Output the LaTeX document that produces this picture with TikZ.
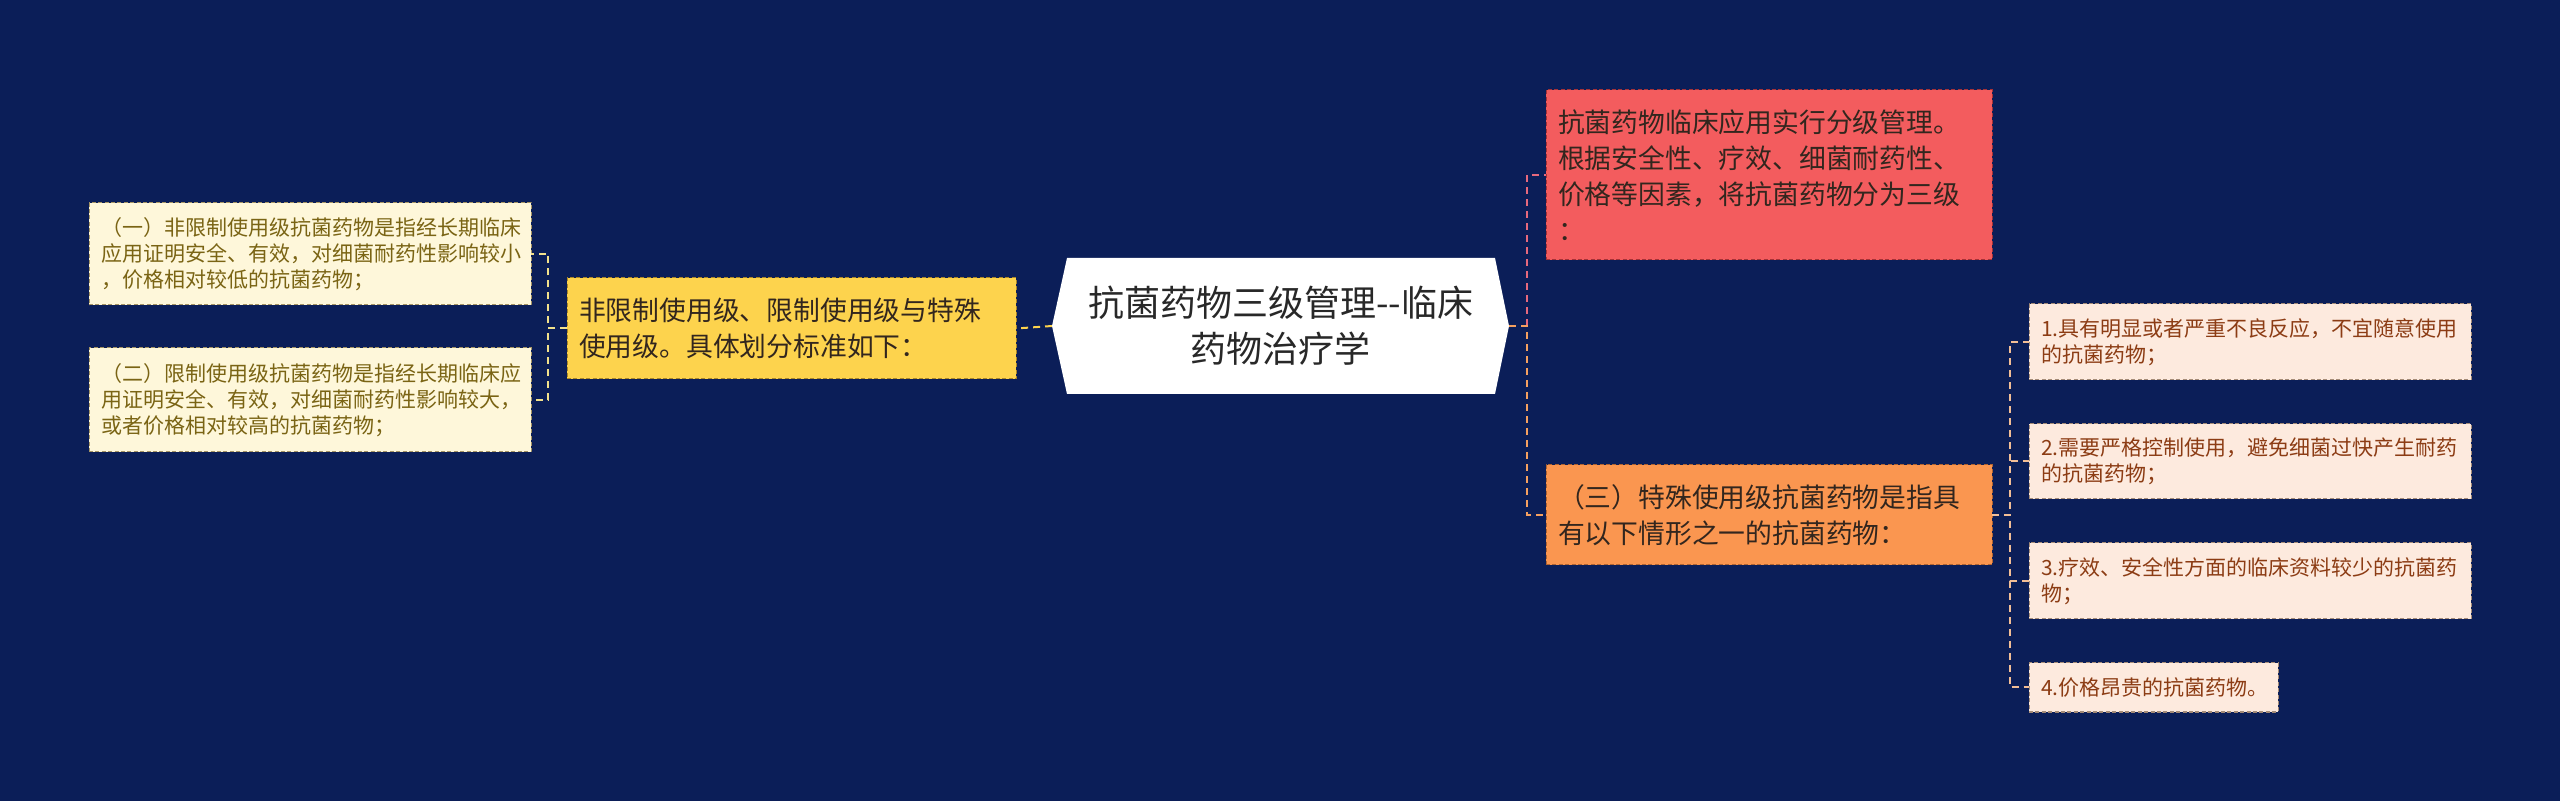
\documentclass[tikz,border=0pt]{standalone}
\usepackage{fontspec}
\setmainfont{Noto Sans CJK SC}
\usetikzlibrary{backgrounds}
\definecolor{bg}{RGB}{11,30,88}
\definecolor{ylw}{RGB}{253,211,77}
\definecolor{ylwb}{RGB}{170,135,40}
\definecolor{cream}{RGB}{254,247,218}
\definecolor{creamb}{RGB}{165,148,100}
\definecolor{creamt}{RGB}{122,100,20}
\definecolor{redf}{RGB}{243,92,94}
\definecolor{redb}{RGB}{165,50,55}
\definecolor{orf}{RGB}{250,150,80}
\definecolor{orb}{RGB}{175,100,50}
\definecolor{peach}{RGB}{253,234,222}
\definecolor{peachb}{RGB}{165,140,120}
\definecolor{peacht}{RGB}{140,60,20}
\definecolor{txtd}{RGB}{50,38,30}
\definecolor{roott}{RGB}{40,40,40}
\definecolor{lineleft}{RGB}{242,225,140}
\definecolor{lineylw}{RGB}{253,211,77}
\definecolor{linered}{RGB}{230,105,125}
\definecolor{lineor}{RGB}{245,160,95}
\definecolor{linepeach}{RGB}{242,190,150}
\begin{document}
\begin{tikzpicture}[x=0.5pt,y=-0.5pt,
  every node/.style={inner sep=0pt, outer sep=0pt},
  box/.style={rectangle, draw, dash pattern=on 2pt off 1.2pt, line width=0.5pt, inner xsep=6pt, inner ysep=0pt, align=left},
  smallbox/.style={box, font=\fontsize{10.5}{13}\selectfont},
  midbox/.style={box, font=\fontsize{13.4}{18}\selectfont},
  link/.style={line width=1pt, dash pattern=on 3.5pt off 2.5pt},
]
\begin{pgfonlayer}{background}
\fill[bg] (0,0) rectangle (2560,801);
\end{pgfonlayer}
\useasboundingbox (0,0) rectangle (2560,801);

% root
\node[rectangle, minimum width=228.5pt, minimum height=68pt, align=center,
      font=\fontsize{18}{23}\selectfont, text=roott] (root) at (1280.5,326)
      {抗菌药物三级管理-{}-临床\\药物治疗学};
\begin{pgfonlayer}{background}
\fill[white] ([xshift=7.5pt]root.north west) -- ([xshift=-7pt]root.north east)
  -- (root.east) -- ([xshift=-7pt]root.south east) -- ([xshift=7.5pt]root.south west)
  -- (root.west) -- cycle;
\end{pgfonlayer}

% left
\node[midbox, fill=ylw, draw=ylwb, text=txtd, minimum width=224.5pt, minimum height=50.5pt, text width=212.5pt] (y1) at (791.5,328.5)
  {非限制使用级、限制使用级与特殊\\使用级。具体划分标准如下：};
\node[smallbox, fill=cream, draw=creamb, text=creamt, minimum width=221pt, minimum height=51pt, text width=209pt] (c1) at (310,254)
  {（一）非限制使用级抗菌药物是指经长期临床\\应用证明安全、有效，对细菌耐药性影响较小\\，价格相对较低的抗菌药物；};
\node[smallbox, fill=cream, draw=creamb, text=creamt, minimum width=221pt, minimum height=52pt, text width=209pt] (c2) at (310,400)
  {（二）限制使用级抗菌药物是指经长期临床应\\用证明安全、有效，对细菌耐药性影响较大，\\或者价格相对较高的抗菌药物；};

% right
\node[midbox, fill=redf, draw=redb, text=txtd, minimum width=223pt, minimum height=85pt, text width=211pt] (red) at (1769,175)
  {抗菌药物临床应用实行分级管理。\\根据安全性、疗效、细菌耐药性、\\价格等因素，将抗菌药物分为三级\\：};
\node[midbox, fill=orf, draw=orb, text=txtd, minimum width=223pt, minimum height=50pt, text width=211pt] (or) at (1769,515)
  {（三）特殊使用级抗菌药物是指具\\有以下情形之一的抗菌药物：};
\node[smallbox, fill=peach, draw=peachb, text=peacht, minimum width=221pt, minimum height=38pt, text width=209pt] (p1) at (2250,342)
  {1.具有明显或者严重不良反应，不宜随意使用\\的抗菌药物；};
\node[smallbox, fill=peach, draw=peachb, text=peacht, minimum width=221pt, minimum height=37.5pt, text width=209pt] (p2) at (2250,461.5)
  {2.需要严格控制使用，避免细菌过快产生耐药\\的抗菌药物；};
\node[smallbox, fill=peach, draw=peachb, text=peacht, minimum width=221pt, minimum height=38pt, text width=209pt] (p3) at (2250,581)
  {3.疗效、安全性方面的临床资料较少的抗菌药\\物；};
\node[smallbox, fill=peach, draw=peachb, text=peacht, minimum width=124.5pt, minimum height=24.5pt, text width=112.5pt] (p4) at (2153.5,687.5)
  {4.价格昂贵的抗菌药物。};

% connectors
\draw[link, draw=lineylw] (root.west) -- (y1.east);
\draw[link, draw=lineleft] (y1.west) -- ++(-19,0) |- (c1.east);
\draw[link, draw=lineleft] (y1.west) -- ++(-19,0) |- (c2.east);
\draw[link, draw=linered] (root.east) ++(18,0) |- (red.west);
\draw[link, draw=lineor] (root.east) -- ++(18,0) |- (or.west);
\draw[link, draw=linepeach] (or.east) -- ++(18,0) |- (p1.west);
\draw[link, draw=linepeach] (or.east) -- ++(18,0) |- (p2.west);
\draw[link, draw=linepeach] (or.east) -- ++(18,0) |- (p3.west);
\draw[link, draw=linepeach] (or.east) -- ++(18,0) |- (p4.west);
\end{tikzpicture}
\end{document}
